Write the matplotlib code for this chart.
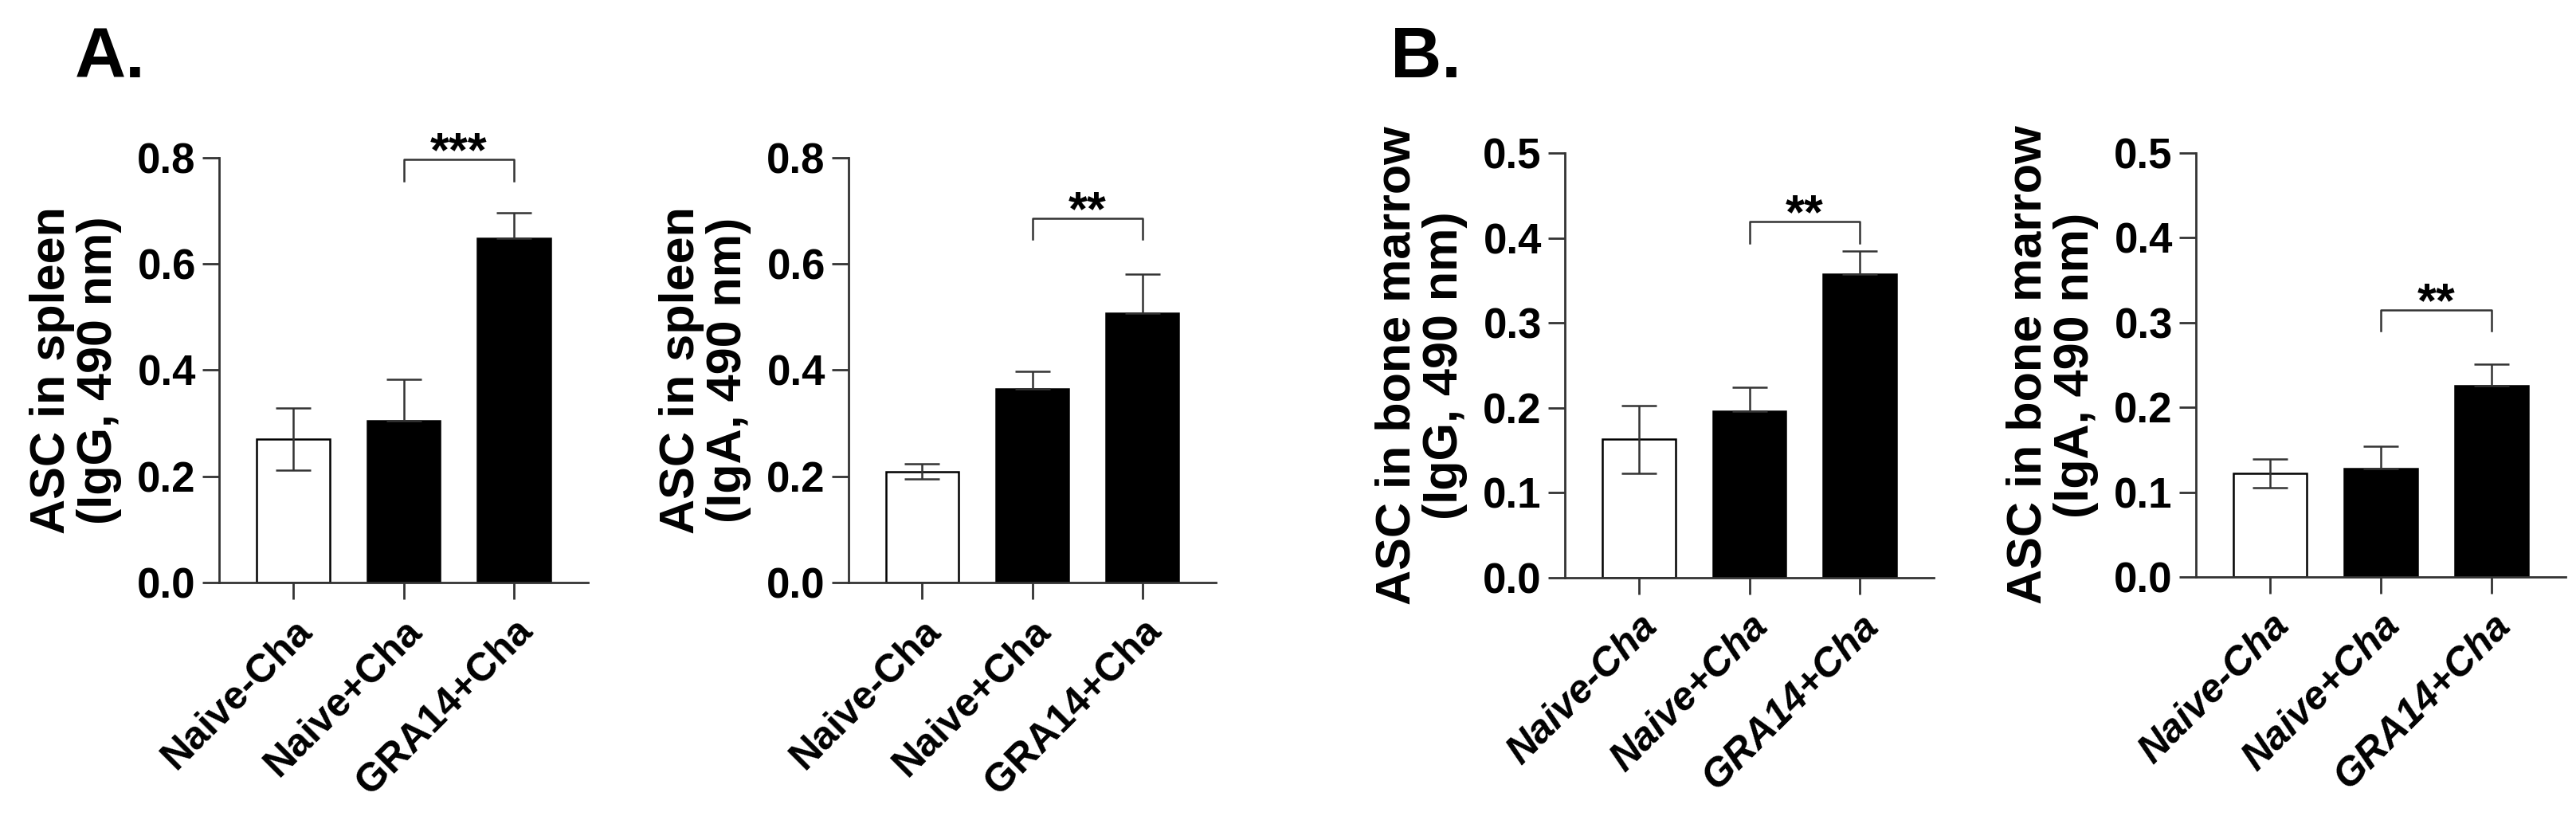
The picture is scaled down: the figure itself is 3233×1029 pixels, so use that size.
import numpy as np
import matplotlib
matplotlib.use('Agg')
import matplotlib.pyplot as plt

plt.rcParams['font.family'] = ['Liberation Sans', 'DejaVu Sans']
plt.rcParams['font.weight'] = 'bold'
plt.rcParams['axes.labelweight'] = 'bold'

groups = ['Naive-Cha', 'Naive+Cha', 'GRA14+Cha']
filled = [False, True, True]

spleen_igg = [0.270, 0.305, 0.648]
spleen_igg_sem = [0.059, 0.077, 0.048]
spleen_iga = [0.209, 0.364, 0.507]
spleen_iga_sem = [0.014, 0.033, 0.074]
bm_igg = [0.163, 0.196, 0.357]
bm_igg_sem = [0.040, 0.028, 0.028]
bm_iga = [0.122, 0.128, 0.226]
bm_iga_sem = [0.017, 0.026, 0.025]

# significance bracket: top y, foot y, label
sig_spleen_igg = (0.797, 0.757, '***')
sig_spleen_iga = (0.686, 0.647, '**')
sig_bm_igg = (0.419, 0.394, '**')
sig_bm_iga = (0.315, 0.290, '**')

W, H = 3233, 1029
line_col = '#333333'


def panel(rect_px, means, sems, sig, ymax, ystep, ylabel, italic):
    l, t, r, b = rect_px
    ax = fig.add_axes([l / W, 1 - b / H, (r - l) / W, (b - t) / H])
    x = np.arange(len(means))
    colors = ['black' if f else 'white' for f in filled]
    ax.bar(x, means, width=0.66, color=colors, edgecolor='black', linewidth=1.8, zorder=2)
    lower = [0 if f else s for f, s in zip(filled, sems)]
    ax.errorbar(x, means, yerr=[lower, sems], fmt='none', ecolor=line_col,
                elinewidth=1.8, capsize=16, capthick=1.8, zorder=3)

    top, foot, stars = sig
    ax.plot([1, 1, 2, 2], [foot, top, top, foot], color=line_col, lw=1.8,
            clip_on=False, zorder=3)
    ax.annotate(stars, xy=(1.5, top), xytext=(0, -6), textcoords='offset points',
                ha='center', va='baseline', fontsize=44, clip_on=False)

    ax.set_xlim(-0.67, 2.67)
    ax.set_ylim(0, ymax)
    ticks = np.arange(0, ymax + 1e-9, ystep)
    ax.set_yticks(ticks)
    ax.set_yticklabels(['%.1f' % v for v in ticks], fontsize=38)
    ax.set_xticks(x)
    ax.set_xticklabels(groups, rotation=45, ha='right', va='top',
                       rotation_mode='anchor', fontsize=36,
                       style='italic' if italic else 'normal')
    ax.set_ylabel(ylabel, fontsize=44, fontweight='bold', labelpad=14, linespacing=1.05)

    for side in ['top', 'right']:
        ax.spines[side].set_visible(False)
    for side in ['left', 'bottom']:
        ax.spines[side].set_linewidth(2)
        ax.spines[side].set_color(line_col)
    ax.tick_params(axis='both', length=15, width=2, color=line_col, pad=6)
    ax.tick_params(axis='x', pad=12)
    return ax


fig = plt.figure(figsize=(W / 100, H / 100), dpi=100)

panel((275, 198, 738, 731), spleen_igg, spleen_igg_sem, sig_spleen_igg, 0.8, 0.2,
      'ASC in spleen\n(IgG, 490 nm)', False)
panel((1065, 198, 1526, 731), spleen_iga, spleen_iga_sem, sig_spleen_iga, 0.8, 0.2,
      'ASC in spleen\n(IgA, 490 nm)', False)
panel((1964, 192, 2427, 725), bm_igg, bm_igg_sem, sig_bm_igg, 0.5, 0.1,
      'ASC in bone marrow\n(IgG, 490 nm)', True)
panel((2756, 192, 3220, 724), bm_iga, bm_iga_sem, sig_bm_iga, 0.5, 0.1,
      'ASC in bone marrow\n(IgA, 490 nm)', True)

fig.text(94 / W, 1 - 97 / H, 'A.', fontsize=64, fontweight='bold', va='baseline')
fig.text(1745 / W, 1 - 97 / H, 'B.', fontsize=64, fontweight='bold', va='baseline')

fig.savefig('out.png', dpi=100)
